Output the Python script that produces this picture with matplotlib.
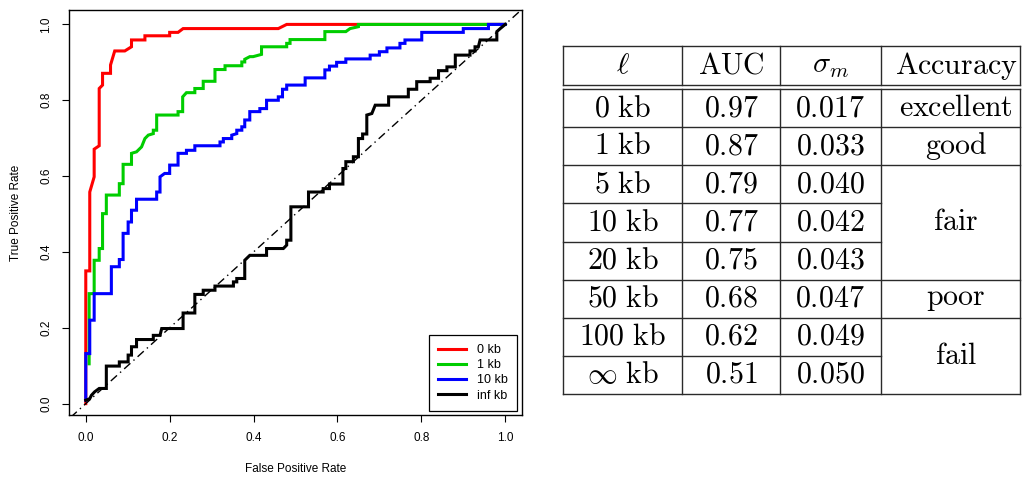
import matplotlib
matplotlib.use("Agg")
import matplotlib.pyplot as plt

# ===== ROC curves (FPR, TPR) =====
fpr_0kb = [0, 0, 0, 0.0095, 0.0095, 0.02, 0.02, 0.032, 0.032, 0.04, 0.04, 0.059, 0.059,
           0.069, 0.093, 0.109, 0.109, 0.141, 0.141, 0.2, 0.2, 0.22, 0.232, 0.459, 0.479, 1.0]
tpr_0kb = [0, 0.13, 0.35, 0.35, 0.558, 0.598, 0.671, 0.68, 0.831, 0.84, 0.871, 0.871, 0.893,
           0.93, 0.93, 0.941, 0.959, 0.959, 0.97, 0.97, 0.979, 0.979, 0.989, 0.989, 1.0, 1.0]

fpr_1kb = [0.008, 0.008, 0.02, 0.02, 0.032, 0.032, 0.04, 0.04, 0.049, 0.049, 0.08, 0.08,
           0.089, 0.089, 0.109, 0.109, 0.121, 0.133, 0.141, 0.149, 0.161, 0.161, 0.169, 0.169,
           0.22, 0.22, 0.231, 0.231, 0.24, 0.26, 0.26, 0.28, 0.28, 0.308, 0.308, 0.332, 0.332,
           0.372, 0.372, 0.379, 0.379, 0.391, 0.399, 0.419, 0.419, 0.479, 0.479, 0.487, 0.487,
           0.57, 0.57, 0.62, 0.63, 0.65, 0.65, 1.0]
tpr_1kb = [0.105, 0.29, 0.29, 0.378, 0.378, 0.409, 0.409, 0.501, 0.501, 0.55, 0.55, 0.58,
           0.58, 0.631, 0.631, 0.66, 0.664, 0.677, 0.699, 0.708, 0.712, 0.721, 0.721, 0.761,
           0.761, 0.77, 0.77, 0.809, 0.82, 0.82, 0.831, 0.831, 0.85, 0.85, 0.881, 0.881, 0.891,
           0.891, 0.901, 0.901, 0.908, 0.915, 0.915, 0.921, 0.941, 0.941, 0.95, 0.95, 0.96,
           0.96, 0.981, 0.981, 0.989, 0.994, 1.0, 1.0]

fpr_10kb = [0, 0, 0.0095, 0.0095, 0.02, 0.02, 0.061, 0.061, 0.08, 0.08, 0.089, 0.089, 0.101,
            0.101, 0.109, 0.109, 0.121, 0.121, 0.169, 0.169, 0.177, 0.177, 0.188, 0.2, 0.2,
            0.22, 0.22, 0.24, 0.24, 0.26, 0.26, 0.32, 0.32, 0.328, 0.328, 0.348, 0.348, 0.36,
            0.36, 0.372, 0.372, 0.379, 0.379, 0.391, 0.391, 0.415, 0.415, 0.431, 0.431, 0.459,
            0.459, 0.469, 0.469, 0.479, 0.479, 0.523, 0.523, 0.57, 0.57, 0.581, 0.581, 0.598,
            0.598, 0.62, 0.62, 0.678, 0.678, 0.7, 0.7, 0.718, 0.718, 0.749, 0.749, 0.761, 0.761,
            0.801, 0.801, 0.9, 0.9, 0.96, 0.96, 1.0]
tpr_10kb = [0.009, 0.132, 0.132, 0.22, 0.22, 0.29, 0.29, 0.361, 0.361, 0.38, 0.38, 0.449,
            0.449, 0.479, 0.479, 0.51, 0.51, 0.539, 0.539, 0.558, 0.558, 0.598, 0.607, 0.607,
            0.629, 0.629, 0.66, 0.66, 0.668, 0.668, 0.68, 0.68, 0.69, 0.69, 0.699, 0.699, 0.708,
            0.712, 0.721, 0.721, 0.73, 0.73, 0.748, 0.748, 0.77, 0.77, 0.778, 0.778, 0.8, 0.8,
            0.809, 0.809, 0.829, 0.829, 0.84, 0.84, 0.859, 0.859, 0.88, 0.88, 0.89, 0.89, 0.9,
            0.9, 0.909, 0.909, 0.919, 0.919, 0.928, 0.928, 0.938, 0.938, 0.95, 0.95, 0.959,
            0.959, 0.979, 0.979, 0.989, 0.989, 1.0, 1.0]

fpr_inf = [0, 0.0095, 0.0135, 0.021, 0.032, 0.049, 0.049, 0.08, 0.08, 0.101, 0.101, 0.109,
           0.109, 0.121, 0.121, 0.161, 0.161, 0.177, 0.181, 0.232, 0.232, 0.26, 0.26, 0.28,
           0.28, 0.308, 0.308, 0.352, 0.352, 0.36, 0.36, 0.379, 0.379, 0.391, 0.431, 0.431,
           0.471, 0.479, 0.479, 0.489, 0.489, 0.531, 0.531, 0.566, 0.566, 0.581, 0.581, 0.613,
           0.613, 0.62, 0.62, 0.638, 0.638, 0.65, 0.65, 0.66, 0.66, 0.67, 0.67, 0.682, 0.69,
           0.722, 0.722, 0.769, 0.769, 0.789, 0.789, 0.821, 0.821, 0.841, 0.841, 0.861, 0.861,
           0.881, 0.881, 0.916, 0.916, 0.928, 0.928, 0.936, 0.94, 0.98, 0.98, 0.988, 1.0]
tpr_inf = [0.009, 0.013, 0.022, 0.031, 0.04, 0.04, 0.099, 0.099, 0.11, 0.11, 0.128, 0.128,
           0.15, 0.15, 0.169, 0.169, 0.18, 0.18, 0.198, 0.198, 0.239, 0.239, 0.288, 0.288,
           0.299, 0.299, 0.31, 0.31, 0.321, 0.321, 0.33, 0.33, 0.378, 0.391, 0.391, 0.409,
           0.409, 0.418, 0.431, 0.431, 0.519, 0.519, 0.558, 0.558, 0.567, 0.567, 0.579, 0.579,
           0.62, 0.62, 0.638, 0.638, 0.651, 0.651, 0.699, 0.699, 0.711, 0.711, 0.761, 0.765,
           0.787, 0.787, 0.809, 0.809, 0.829, 0.829, 0.849, 0.849, 0.858, 0.858, 0.878, 0.878,
           0.888, 0.888, 0.919, 0.919, 0.93, 0.93, 0.941, 0.941, 0.959, 0.959, 0.981, 0.989, 1.0]

curve_labels = ["0 kb", "1 kb", "10 kb", "inf kb"]
curve_colors = ["#ff0000", "#00cd00", "#0000ff", "#000000"]

# ===== table =====
lengths = [r"$\mathrm{0\ kb}$", r"$\mathrm{1\ kb}$", r"$\mathrm{5\ kb}$", r"$\mathrm{10\ kb}$",
           r"$\mathrm{20\ kb}$", r"$\mathrm{50\ kb}$", r"$\mathrm{100\ kb}$", r"$\infty\ \mathrm{kb}$"]
auc = ["0.97", "0.87", "0.79", "0.77", "0.75", "0.68", "0.62", "0.51"]
sigma_m = ["0.017", "0.033", "0.040", "0.042", "0.043", "0.047", "0.049", "0.050"]
# (label, first row, number of rows)
accuracy = [("excellent", 0, 1), ("good", 1, 1), ("fair", 2, 3), ("poor", 5, 1), ("fail", 6, 2)]
headers = [r"$\ell$", r"$\mathrm{AUC}$", r"$\sigma_m$", r"$\mathrm{Accuracy}$"]

plt.rcParams["font.family"] = ["Liberation Sans", "DejaVu Sans"]
plt.rcParams["mathtext.fontset"] = "cm"

W, H = 1027, 478
fig = plt.figure(figsize=(W / 100, H / 100), dpi=100)

# ---- ROC plot ----
ax = fig.add_axes([69 / W, 1 - 415 / H, 453 / W, 405 / H])
curves = [(fpr_0kb, tpr_0kb), (fpr_1kb, tpr_1kb), (fpr_10kb, tpr_10kb), (fpr_inf, tpr_inf)]
for (fx, ty), lab, col in zip(curves, curve_labels, curve_colors):
    ax.plot(fx, ty, color=col, lw=2.2, label=lab, solid_joinstyle="miter")
ax.plot([-0.1, 1.1], [-0.1, 1.1], color="black", lw=1.0, linestyle=(0, (6, 3, 1, 3)))
ax.set_xlim(-0.04, 1.04)
ax.set_ylim(-0.03, 1.038)
ticks = [0.0, 0.2, 0.4, 0.6, 0.8, 1.0]
ax.set_xticks(ticks)
ax.set_yticks(ticks)
ax.set_xticklabels([f"{t:.1f}" for t in ticks])
ax.set_yticklabels([f"{t:.1f}" for t in ticks])
ax.tick_params(length=5, width=0.8, pad=7, labelsize=8.5)
for lab in ax.get_yticklabels():
    lab.set_rotation(90)
    lab.set_va("center")
for s in ax.spines.values():
    s.set_linewidth(1.0)
ax.set_xlabel("False Positive Rate", fontsize=8.5, labelpad=14)
ax.set_ylabel("True Positive Rate", fontsize=8.5, labelpad=13)
leg = ax.legend(loc="lower right", bbox_to_anchor=(0.989, 0.01), borderaxespad=0,
                fontsize=9, fancybox=False, framealpha=1, edgecolor="black",
                handlelength=2.2, handletextpad=0.9, labelspacing=0.25,
                borderpad=0.75)
leg.get_frame().set_linewidth(0.9)

# ---- table ----
tb = fig.add_axes([0, 0, 1, 1])
tb.set_xlim(0, W)
tb.set_ylim(H, 0)
tb.axis("off")
col_x = [563, 682, 780, 881, 1020]
text_x = [622.5, 731, 830, 956]
head_top, head_bot = 46, 85
body_top = 89
row_h = (394 - body_top) / len(lengths)
row_y = [body_top + i * row_h for i in range(len(lengths) + 1)]
lc = "#2a2a2a"
lw = 1.0
fs = 21.5

# header
tb.plot([col_x[0], col_x[-1]], [head_top, head_top], color=lc, lw=lw)
tb.plot([col_x[0], col_x[-1]], [head_bot, head_bot], color=lc, lw=lw)
for x in col_x:
    tb.plot([x, x], [head_top, head_bot], color=lc, lw=lw)
    tb.plot([x, x], [row_y[0], row_y[-1]], color=lc, lw=lw)
for j, h in enumerate(headers):
    tb.text(text_x[j], (head_top + head_bot) / 2, h, fontsize=fs, ha="center", va="center")

# horizontal rules in the body
span_rows = set()
for lab, r0, n in accuracy:
    for k in range(r0 + 1, r0 + n):
        span_rows.add(k)
for i, y in enumerate(row_y):
    x_end = col_x[3] if i in span_rows else col_x[-1]
    tb.plot([col_x[0], x_end], [y, y], color=lc, lw=lw)

for i in range(len(lengths)):
    yc = (row_y[i] + row_y[i + 1]) / 2
    for j, val in enumerate([lengths[i], "$" + auc[i] + "$", "$" + sigma_m[i] + "$"]):
        tb.text(text_x[j], yc, val, fontsize=fs, ha="center", va="center")
for lab, r0, n in accuracy:
    yc = (row_y[r0] + row_y[r0 + n]) / 2
    tb.text(text_x[3], yc, r"$\mathrm{" + lab + "}$", fontsize=fs, ha="center", va="center")

fig.savefig("out.png", dpi=100)
